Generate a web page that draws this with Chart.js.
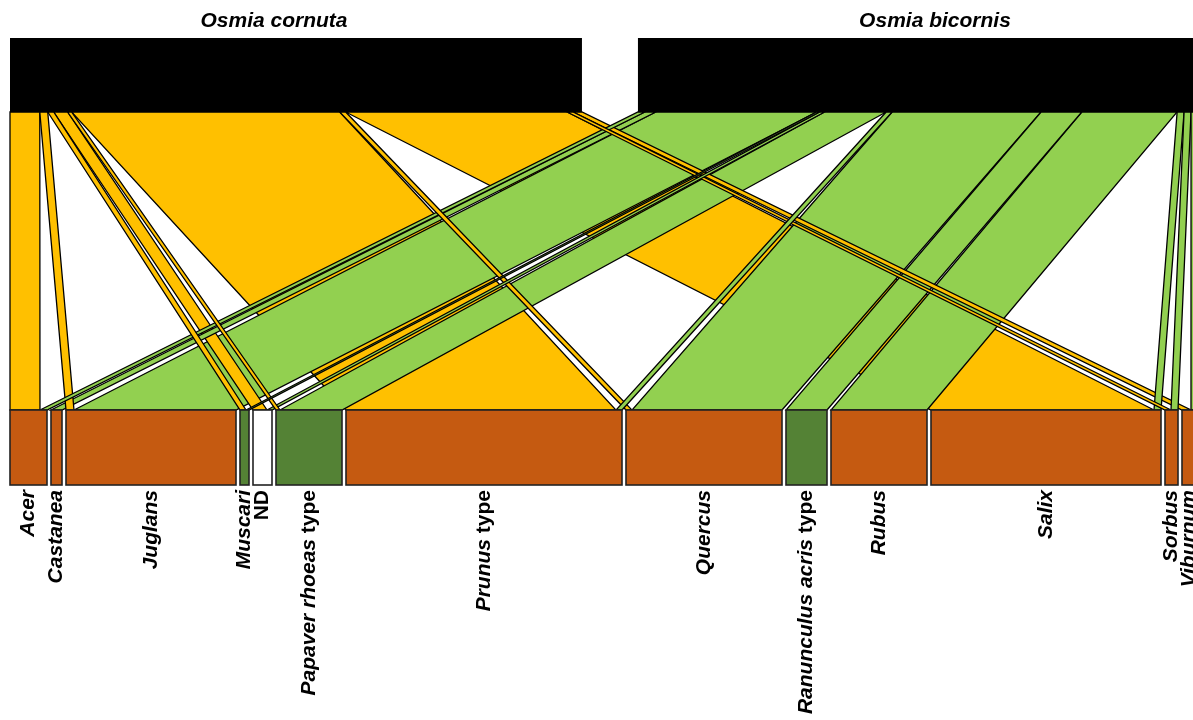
<!DOCTYPE html>
<html>
<head>
<meta charset="utf-8">
<script src="https://cdn.jsdelivr.net/npm/chart.js@4.4.1/dist/chart.umd.min.js"></script>
<style>
  html, body { margin: 0; padding: 0; background: #fff; }
  #web { display: block; }
</style>
</head>
<body>
<canvas id="web" width="1193" height="720"></canvas>
<script>
// pollen types (lower level) and bees (higher level)
const plants = ["Acer", "Castanea", "Juglans", "Muscari", "ND", "Papaver rhoeas type",
  "Prunus type", "Quercus", "Ranunculus acris type", "Rubus", "Salix", "Sorbus", "Viburnum"];
const bees = ["Osmia cornuta", "Osmia bicornis"];

// interaction weights (one value per pollen type)
const cornuta  = [30, 0, 8, 6, 14, 4, 270, 6, 0, 0, 223, 6, 9];
const bicornis = [7, 11, 162, 3, 5, 62, 6, 150, 41, 96, 7, 7, 5];

// plant box class: b = brown, g = green, n = not determined
const plantClass = ["b", "b", "b", "g", "n", "g", "b", "b", "g", "b", "b", "b", "b"];

const web = [cornuta, bicornis];
const beeColors = ["#FFC000", "#92D050"];
const boxColors = { b: "#C55A11", g: "#548235", n: "#FFFFFF" };

// layout (x in fractions of the plot width, y in pixels)
const PLOT_W = 1186;
const GAP_LOW = 4 / PLOT_W;
const GAP_HIGH = 56 / PLOT_W;
const Y_HIGH_TOP = 38, Y_HIGH_BOT = 112, Y_LOW_TOP = 410, Y_LOW_BOT = 485;
const beeLabelShift = [-22 / PLOT_W, 18 / PLOT_W];
const FONT_PX = 21;

function sum(a) { return a.reduce((s, v) => s + v, 0); }

const plantTotals = plants.map((p, i) => cornuta[i] + bicornis[i]);
const beeTotals = web.map(sum);
const grand = sum(plantTotals);
const sLow = (1 - (plants.length - 1) * GAP_LOW) / grand;
const sHigh = (1 - (bees.length - 1) * GAP_HIGH) / grand;

function boxes(totals, scale, gap) {
  let x = 0;
  return totals.map(t => {
    const b = { x0: x, x1: x + t * scale };
    x = b.x1 + gap;
    return b;
  });
}
const lowBoxes = boxes(plantTotals, sLow, GAP_LOW);
const highBoxes = boxes(beeTotals, sHigh, GAP_HIGH);

// link ends: top segments in plant order, bottom segments in bee order
const links = [];
const highCursor = highBoxes.map(b => b.x0);
const lowCursor = lowBoxes.map(b => b.x0);
for (let k = 0; k < bees.length; k++) {
  for (let i = 0; i < plants.length; i++) {
    const w = web[k][i];
    const top0 = highCursor[k], top1 = top0 + w * sHigh;
    highCursor[k] = top1;
    links.push({ k: k, i: i, w: w, top0: top0, top1: top1 });
  }
}
for (let i = 0; i < plants.length; i++) {
  for (let k = 0; k < bees.length; k++) {
    const l = links.find(q => q.k === k && q.i === i);
    l.bot0 = lowCursor[i];
    l.bot1 = l.bot0 + l.w * sLow;
    lowCursor[i] = l.bot1;
  }
}
// big links first, thin ones on top
const drawOrder = links.filter(l => l.w > 0).sort((a, b) => b.w - a.w);

const FONT = "'Liberation Sans', Arial, sans-serif";

function labelParts(name) {
  if (name === "ND") return [["ND", false]];
  if (name.endsWith(" type")) return [[name.slice(0, -5), true], [" type", false]];
  return [[name, true]];
}

const webPlugin = {
  id: "webPlugin",
  beforeDraw(chart) {
    const ctx = chart.ctx;
    ctx.save();
    ctx.fillStyle = "#fff";
    ctx.fillRect(0, 0, chart.width, chart.height);
    ctx.restore();
  },
  afterDatasetsDraw(chart) {
    const ctx = chart.ctx;
    const xs = chart.scales.x, ys = chart.scales.y;
    const px = v => xs.getPixelForValue(v);
    const py = v => ys.getPixelForValue(v);
    ctx.save();
    ctx.lineJoin = "miter";

    // interactions
    ctx.lineWidth = 1.3;
    ctx.strokeStyle = "#000";
    drawOrder.forEach(l => {
      ctx.beginPath();
      ctx.moveTo(px(l.top0), py(Y_HIGH_BOT));
      ctx.lineTo(px(l.top1), py(Y_HIGH_BOT));
      ctx.lineTo(px(l.bot1), py(Y_LOW_TOP));
      ctx.lineTo(px(l.bot0), py(Y_LOW_TOP));
      ctx.closePath();
      ctx.fillStyle = beeColors[l.k];
      ctx.fill();
      ctx.stroke();
    });

    // bee boxes
    highBoxes.forEach(b => {
      ctx.fillStyle = "#000";
      ctx.fillRect(px(b.x0), py(Y_HIGH_TOP), px(b.x1) - px(b.x0), py(Y_HIGH_BOT) - py(Y_HIGH_TOP));
    });

    // plant boxes
    ctx.lineWidth = 1.6;
    lowBoxes.forEach((b, i) => {
      const x = px(b.x0), w = px(b.x1) - x;
      const y = py(Y_LOW_TOP), h = py(Y_LOW_BOT) - y;
      ctx.fillStyle = boxColors[plantClass[i]];
      ctx.fillRect(x, y, w, h);
      ctx.strokeStyle = "#222";
      ctx.strokeRect(x, y, w, h);
    });

    // bee names
    ctx.fillStyle = "#000";
    ctx.textAlign = "center";
    ctx.textBaseline = "middle";
    ctx.font = "italic bold " + FONT_PX + "px " + FONT;
    highBoxes.forEach((b, k) => {
      ctx.fillText(bees[k], px((b.x0 + b.x1) / 2 + beeLabelShift[k]), py(21));
    });

    // plant names, rotated, ending just under the boxes
    ctx.textAlign = "left";
    lowBoxes.forEach((b, i) => {
      const parts = labelParts(plants[i]);
      let total = 0;
      parts.forEach(p => {
        ctx.font = (p[1] ? "italic " : "") + "bold " + FONT_PX + "px " + FONT;
        total += ctx.measureText(p[0]).width;
      });
      ctx.save();
      ctx.translate(px((b.x0 + b.x1) / 2), py(Y_LOW_BOT + 5));
      ctx.rotate(-Math.PI / 2);
      let x = -total;
      parts.forEach(p => {
        ctx.font = (p[1] ? "italic " : "") + "bold " + FONT_PX + "px " + FONT;
        ctx.fillText(p[0], x, 0);
        x += ctx.measureText(p[0]).width;
      });
      ctx.restore();
    });
    ctx.restore();
  }
};

new Chart(document.getElementById("web"), {
  type: "scatter",
  data: { datasets: [{ data: [], showLine: false }] },
  options: {
    responsive: false,
    animation: false,
    devicePixelRatio: 1,
    layout: { padding: 0 },
    plugins: { legend: { display: false }, tooltip: { enabled: false } },
    scales: {
      x: { type: "linear", min: -10 / PLOT_W, max: 1183 / PLOT_W, display: false },
      y: { type: "linear", min: 0, max: 720, reverse: true, display: false }
    }
  },
  plugins: [webPlugin]
});
</script>
</body>
</html>
